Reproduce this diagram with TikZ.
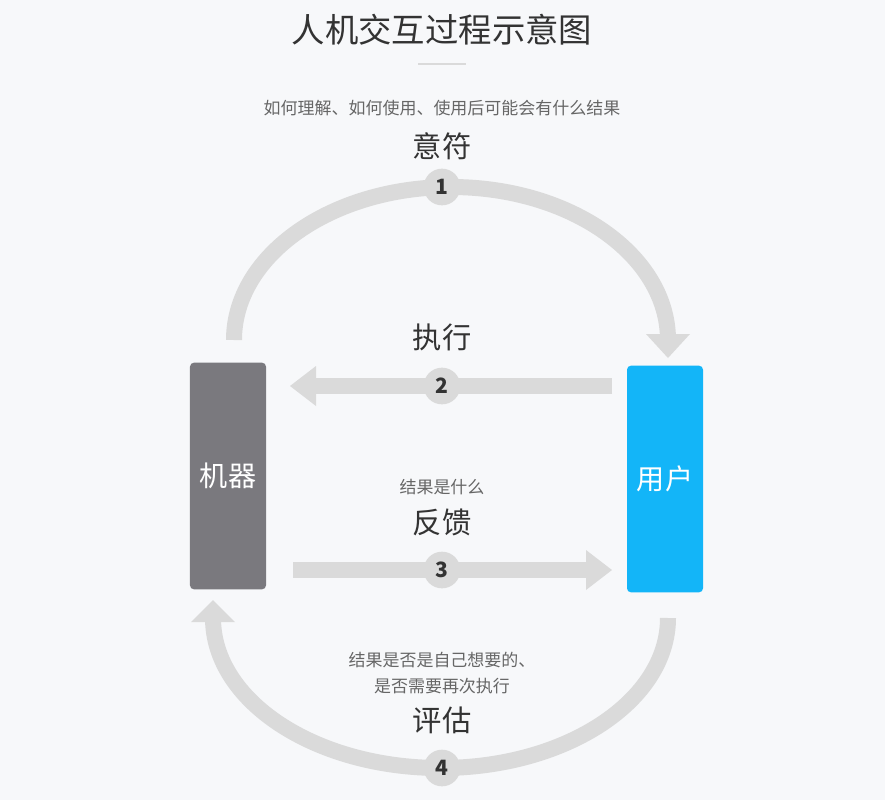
\documentclass[tikz,border=0pt]{standalone}
\usepackage{fontspec}
\setmainfont{Noto Sans CJK SC}
\usetikzlibrary{positioning,calc}
\definecolor{bgc}{HTML}{F7F8FA}
\definecolor{flowc}{HTML}{DADADA}
\definecolor{machc}{HTML}{7A797E}
\definecolor{userc}{HTML}{13B5F8}
\definecolor{txtc}{HTML}{333333}
\definecolor{subc}{HTML}{666666}
\begin{document}
\begin{tikzpicture}[x=0.03cm,y=-0.03cm]
  \tikzset{flow/.style={line width=0.48cm,draw=flowc},
    head/.style={fill=flowc,draw=none},
    stepc/.style={circle,fill=flowc,minimum size=1.1cm,inner sep=0pt,text=txtc,font=\bfseries\fontsize{18}{18}\selectfont},
    box/.style={rounded corners=0.12cm,minimum width=2.28cm,minimum height=6.8cm,text=white,font=\fontsize{24}{24}\selectfont},
    lab/.style={text=txtc,font=\fontsize{25}{27}\selectfont},
    note/.style={text=subc,font=\fontsize{14.5}{22}\selectfont,align=center}}
  \fill[bgc] (0,0) rectangle (885,800);
  \useasboundingbox (0,0) rectangle (885,800);
  % title
  \node[text=txtc,font=\fontsize{28.5}{29}\selectfont] (title) at (442,30) {人机交互过程示意图};
  \draw[line width=0.08cm,draw=flowc] (418,64) -- (466,64);
  % boxes
  \node[box,fill=machc] (machine) at (228,476) {机器};
  \node[box,fill=userc] (user) at (665,479) {用户};
  % top arc
  \coordinate (a1) at (234,340);
  \coordinate (b1) at (668,338);
  \draw[flow] (a1) arc[start angle=180,end angle=360,x radius=217,y radius=153];
  \fill[head] (646,334) -- (690,334) -- (668,358) -- cycle;
  % arrow 2
  \coordinate (a2) at (612,386);
  \coordinate (b2) at (314,386);
  \draw[flow] (a2) -- (b2);
  \fill[head] (316,366) -- (316,406) -- (290,386) -- cycle;
  % arrow 3
  \coordinate (a3) at (293,570);
  \coordinate (b3) at (588,570);
  \draw[flow] (a3) -- (b3);
  \fill[head] (586,550) -- (586,590) -- (612,570) -- cycle;
  % bottom arc
  \coordinate (a4) at (668,618);
  \coordinate (b4) at (213,625);
  \draw[flow] (a4) arc[start angle=0,end angle=180,x radius=227.5,y radius=150];
  \fill[head] (191,622) -- (235,622) -- (213,600) -- cycle;
  % steps
  \node[stepc] (c1) at (442,187) {1};
  \node[stepc] (c2) at (442,386) {2};
  \node[stepc] (c3) at (442,570) {3};
  \node[stepc] (c4) at (442,768) {4};
  % labels
  \node[note] (n1) at (442,108) {如何理解、如何使用、使用后可能会有什么结果};
  \node[lab] (l1) at (442,146) {意符};
  \node[lab] (l2) at (442,337) {执行};
  \node[note] (n3) at (442,487) {结果是什么};
  \node[lab] (l3) at (442,522) {反馈};
  \node[note] (n4) at (442,673) {结果是否是自己想要的、\\是否需要再次执行};
  \node[lab] (l4) at (442,720) {评估};
\end{tikzpicture}
\end{document}
